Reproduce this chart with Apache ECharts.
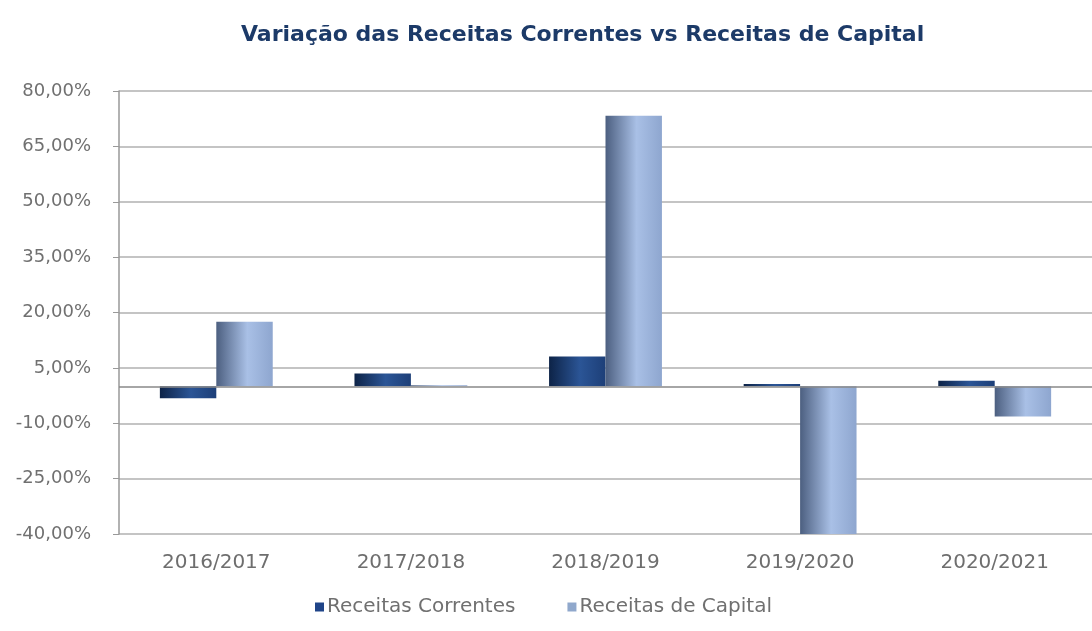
<!DOCTYPE html>
<html>
<head>
<meta charset="utf-8">
<script src="https://cdn.jsdelivr.net/npm/echarts@6/dist/echarts.min.js"></script>
<style>
  html, body { margin: 0; padding: 0; background: #fff; }
  #chart { width: 1092px; height: 631px; }
</style>
</head>
<body>
<div id="chart"></div>
<script>
  var categories = ['2016/2017', '2017/2018', '2018/2019', '2019/2020', '2020/2021'];
  var receitasCorrentes = [-3.2, 3.5, 8.1, 0.6, 1.5];
  var receitasCapital = [17.5, 0.3, 73.3, -40, -8.2];

  function grad(dark, mid, light) {
    return new echarts.graphic.LinearGradient(0, 0, 1, 0, [
      {offset: 0, color: dark},
      {offset: 0.55, color: light},
      {offset: 1, color: mid}
    ]);
  }

  var myChart = echarts.init(document.getElementById('chart'));
  myChart.setOption({
    animation: false,
    title: {
      text: 'Variação das Receitas Correntes vs Receitas de Capital',
      left: 236,
      top: 19,
      textStyle: {
        fontFamily: 'DejaVu Sans',
        fontSize: 22,
        fontWeight: 'bold',
        color: '#1c3a68'
      }
    },
    legend: {
      bottom: 9,
      left: 310,
      itemWidth: 9,
      itemHeight: 9,
      itemGap: 52,
      icon: 'rect',
      textStyle: {fontFamily: 'DejaVu Sans', fontSize: 20, color: '#707070', padding: [0, 0, 0, -2]},
      data: [
        {name: 'Receitas Correntes', itemStyle: {color: '#1f4488'}},
        {name: 'Receitas de Capital', itemStyle: {color: '#90a8cc'}}
      ]
    },
    grid: {left: 119, right: -3, top: 91, bottom: 97},
    xAxis: {
      type: 'category',
      data: categories,
      axisLine: {onZero: false, show: false},
      axisTick: {show: false},
      axisLabel: {
        margin: 19,
        fontFamily: 'DejaVu Sans',
        fontSize: 20,
        color: '#6e6e6e'
      }
    },
    yAxis: {
      type: 'value',
      min: -40,
      max: 80,
      interval: 15,
      axisLine: {show: true, lineStyle: {color: '#999', width: 1.5}},
      axisTick: {show: true, length: 6, lineStyle: {color: '#999'}},
      splitLine: {lineStyle: {color: '#b0b0b0', width: 1.5}},
      axisLabel: {
        margin: 28,
        fontFamily: 'DejaVu Sans',
        fontSize: 18,
        color: '#707070',
        formatter: function (v) { return v.toFixed(2).replace('.', ',') + '%'; }
      }
    },
    series: [
      {
        name: 'Receitas Correntes',
        type: 'bar',
        data: receitasCorrentes,
        barGap: '0%',
        barCategoryGap: '42%',
        itemStyle: {color: grad('#0d2347', '#1d3f78', '#2b5596')},
        markLine: {
          silent: true,
          symbol: 'none',
          label: {show: false},
          lineStyle: {color: '#888', type: 'solid', width: 1.5},
          data: [{yAxis: 0}]
        }
      },
      {
        name: 'Receitas de Capital',
        type: 'bar',
        data: receitasCapital,
        itemStyle: {color: grad('#4c5f80', '#8ea6cf', '#a9c0e6')}
      }
    ]
  });
</script>
</body>
</html>
